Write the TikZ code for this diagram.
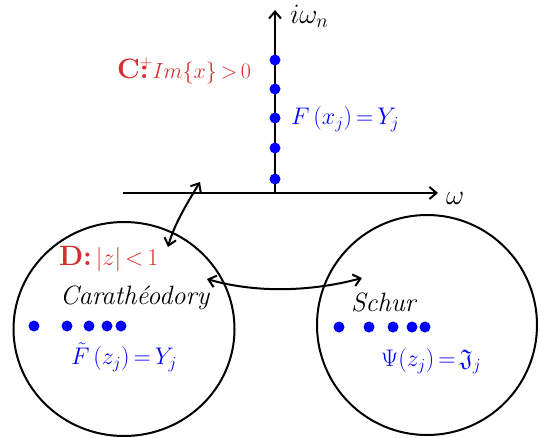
\RequirePackage{fix-cm}
\documentclass[tikz,border=0pt]{standalone}
\usepackage{amssymb}
\usetikzlibrary{arrows.meta}
\definecolor{myred}{RGB}{215,45,45}
\newcommand\bigbf[1]{{\fontsize{28}{30}\selectfont\textbf{#1}}}
\newcommand\tightmath{\medmuskip=2.5mu\relax\thickmuskip=3mu\relax}
\begin{document}
\begin{tikzpicture}[x=1pt,y=-1pt,line width=2pt,
  dot/.style={circle,fill=blue,inner sep=0pt,minimum size=11pt},
  barb/.tip={Straight Barb[length=7pt,width=12pt]},
  axis/.style={-{barb}},
  link/.style={{barb}-{barb}},
  txt/.style={inner sep=0pt,anchor=west,font=\fontsize{24}{28}\selectfont\tightmath},
  itxt/.style={inner sep=0pt,anchor=west,font=\fontsize{26.5}{30}\selectfont\itshape},
  axtxt/.style={inner sep=0pt,anchor=west,font=\fontsize{28}{32}\selectfont},
  redtxt/.style={txt,text=myred},
  bluetxt/.style={txt,text=blue}]
\useasboundingbox (0,0) rectangle (540,437);
% regions
\draw (124,329) ellipse [x radius=110.5pt, y radius=107pt];
\draw (427,325) ellipse [x radius=110pt, y radius=110pt];
% axes
\coordinate (o) at (275,193);
\coordinate (xl) at (123,193);
\coordinate (xr) at (438,193);
\coordinate (yt) at (275,10);
\draw[axis] (xl) -- (xr);
\draw[axis] (o) -- (yt);
\node[axtxt] (om) at (445,198) {$\omega$};
\node[axtxt] (iwn) at (289,16) {$i\omega_n$};
% dots on axis
\foreach \y [count=\i] in {60,89,118,148,179}
  \node[dot] (v\i) at (275,\y) {};
% left disk dots
\foreach \x [count=\i] in {34,67,89,107,121}
  \node[dot] (l\i) at (\x,326) {};
% right disk dots
\foreach \x [count=\i] in {339,369,393,412,425}
  \node[dot] (r\i) at (\x,327) {};
% labels
\node[redtxt] (cplus) at (116,71) {\bigbf{C}\rlap{\raisebox{3pt}{$^{+}$}}\bigbf{:}\,{\fontsize{22}{26}\selectfont$Im\{x\} > 0$}};
\node[bluetxt] (fx) at (290,119) {$F\,(x_j) = Y_j$};
\node[redtxt] (dlab) at (58,259) {\bigbf{D:}\,$|z| < 1$};
\node[itxt] (cara) at (59,298) {Carath\'eodory};
\node[bluetxt] (ft) at (70,357) {$\tilde{F}\,(z_j) = Y_j$};
\node[itxt] (schur) at (350,302) {Schur};
\node[bluetxt] (psi) at (380,361) {$\Psi(z_j) = \mathfrak{J}_j$};
% connectors
\coordinate (a1) at (200,182);
\coordinate (a2) at (168,247);
\draw[link] (a1) .. controls (186,205) and (174,225) .. (a2);
\coordinate (b1) at (207,279);
\coordinate (b2) at (362,278);
\draw[link] (b1) .. controls (255,293) and (310,292) .. (b2);
\end{tikzpicture}
\end{document}
